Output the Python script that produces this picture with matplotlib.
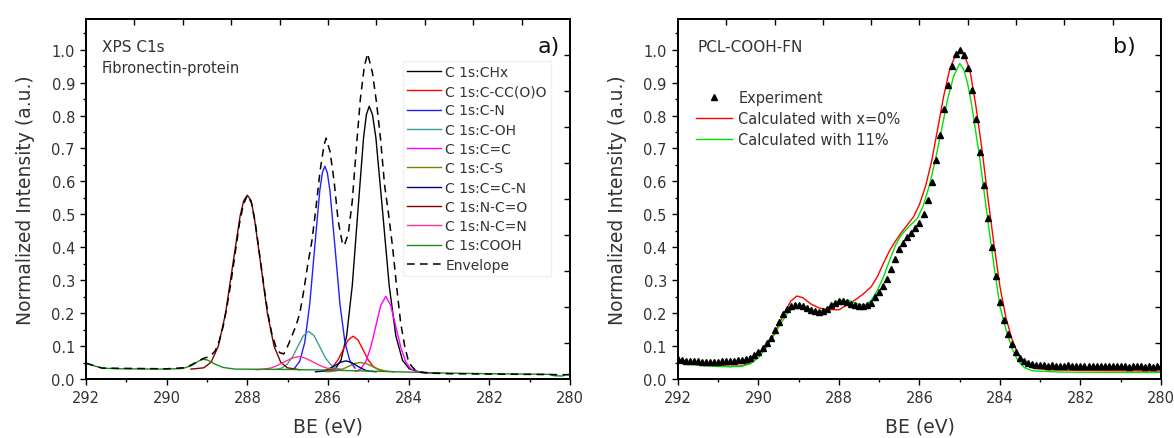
import numpy as np
import matplotlib
matplotlib.use('Agg')
import matplotlib.pyplot as plt

plt.rcParams['font.family'] = ['DejaVu Sans']

# ---- panel a) : XPS C1s fit components (BE in eV, normalized intensity) ----
chx_be = [286.1, 285.82, 285.68, 285.54, 285.40, 285.26, 285.12, 285.05, 284.98, 284.90, 284.815, 284.65, 284.485, 284.32, 284.155, 283.99, 283.7, 283.3]
chx_y = [0.024, 0.031, 0.057, 0.131, 0.284, 0.511, 0.733, 0.803, 0.828, 0.803, 0.733, 0.511, 0.284, 0.131, 0.057, 0.031, 0.020, 0.018]

ccoo_be = [286.13, 286.005, 285.88, 285.755, 285.63, 285.505, 285.38, 285.255, 285.13, 285.005, 284.88, 284.755, 284.63]
ccoo_y = [0.025, 0.029, 0.038, 0.058, 0.088, 0.118, 0.130, 0.118, 0.088, 0.058, 0.038, 0.029, 0.025]

cn_be = [286.83, 286.705, 286.58, 286.455, 286.33, 286.205, 286.14, 286.08, 286.02, 285.955, 285.83, 285.705, 285.58, 285.455, 285.33]
cn_y = [0.033, 0.053, 0.110, 0.227, 0.402, 0.573, 0.627, 0.646, 0.627, 0.573, 0.402, 0.227, 0.110, 0.053, 0.033]

coh_be = [287.29, 287.155, 287.02, 286.885, 286.75, 286.615, 286.48, 286.345, 286.21, 286.075, 285.94, 285.805, 285.67]
coh_y = [0.029, 0.033, 0.044, 0.066, 0.099, 0.131, 0.145, 0.131, 0.099, 0.066, 0.044, 0.033, 0.029]

cc_be = [285.32, 285.195, 285.07, 284.945, 284.82, 284.695, 284.57, 284.445, 284.32, 284.195, 284.07, 283.945, 283.82, 283.5]
cc_y = [0.023, 0.030, 0.051, 0.095, 0.159, 0.223, 0.251, 0.223, 0.159, 0.095, 0.051, 0.030, 0.023, 0.017]

cs_be = [286.04, 285.9, 285.76, 285.62, 285.48, 285.34, 285.2, 285.06, 284.92, 284.78, 284.64, 284.5, 284.36]
cs_y = [0.022, 0.023, 0.026, 0.031, 0.039, 0.047, 0.050, 0.047, 0.039, 0.031, 0.026, 0.023, 0.022]

ccn_be = [286.31, 286.185, 286.06, 285.935, 285.81, 285.685, 285.56, 285.435, 285.31, 285.185, 285.06, 284.935, 284.81]
ccn_y = [0.022, 0.023, 0.026, 0.033, 0.042, 0.051, 0.055, 0.051, 0.042, 0.033, 0.026, 0.023, 0.022]

nco_be = [289.4, 289.08, 288.9, 288.72, 288.54, 288.36, 288.18, 288.09, 288.0, 287.91, 287.835, 287.67, 287.505, 287.34, 287.175, 287.01, 286.7]
nco_y = [0.030, 0.034, 0.051, 0.100, 0.200, 0.349, 0.496, 0.542, 0.558, 0.542, 0.496, 0.349, 0.200, 0.100, 0.051, 0.034, 0.028]

ncn_be = [287.78, 287.605, 287.43, 287.255, 287.08, 286.905, 286.73, 286.555, 286.38, 286.205, 286.03, 285.855, 285.68]
ncn_y = [0.028, 0.030, 0.033, 0.041, 0.052, 0.063, 0.068, 0.063, 0.052, 0.041, 0.033, 0.030, 0.028]

cooh_be = [292.0, 291.8, 291.6, 291.2, 290.0, 289.6, 289.4, 289.3, 289.2, 289.1, 289.0, 288.9, 288.8, 288.6, 288.3,
           287.0, 286.0, 285.0, 284.0, 283.0, 282.0, 281.0, 280.5, 280.4, 280.2, 280.1, 280.0]
cooh_y = [0.048, 0.040, 0.033, 0.031, 0.030, 0.032, 0.040, 0.047, 0.055, 0.060, 0.058, 0.052, 0.045, 0.035, 0.030,
          0.029, 0.027, 0.024, 0.021, 0.018, 0.016, 0.015, 0.014, 0.010, 0.009, 0.013, 0.014]

env_be = [292.0, 291.6, 290.0, 289.6, 289.4, 289.2, 289.1, 289.0, 288.9, 288.8, 288.7, 288.6, 288.5, 288.4, 288.3,
          288.2, 288.1, 288.0, 287.9, 287.8, 287.7, 287.6, 287.5, 287.4, 287.3, 287.2, 287.1, 287.0, 286.9, 286.8,
          286.7, 286.6, 286.5, 286.4, 286.3, 286.2, 286.1, 286.05, 285.95, 285.85, 285.75, 285.65, 285.6, 285.5,
          285.4, 285.3, 285.2, 285.1, 285.02, 284.9, 284.8, 284.7, 284.6, 284.5, 284.4, 284.3, 284.2, 284.1, 284.0,
          283.9, 283.8, 283.5, 283.0, 282.0, 281.0, 280.0]
env_y = [0.048, 0.033, 0.031, 0.034, 0.042, 0.056, 0.062, 0.066, 0.072, 0.085, 0.115, 0.160, 0.225, 0.300, 0.385,
         0.470, 0.530, 0.558, 0.535, 0.470, 0.380, 0.290, 0.205, 0.140, 0.100, 0.080, 0.076, 0.100, 0.130, 0.160,
         0.200, 0.270, 0.350, 0.420, 0.520, 0.630, 0.710, 0.731, 0.690, 0.600, 0.480, 0.415, 0.405, 0.440,
         0.540, 0.700, 0.850, 0.950, 0.988, 0.930, 0.840, 0.730, 0.590, 0.500, 0.400, 0.280, 0.170, 0.100, 0.050,
         0.035, 0.022, 0.018, 0.016, 0.015, 0.014, 0.013]

comp_labels = ['C 1s:CHx', 'C 1s:C-CC(O)O', 'C 1s:C-N', 'C 1s:C-OH', 'C 1s:C=C', 'C 1s:C-S',
               'C 1s:C=C-N', 'C 1s:N-C=O', 'C 1s:N-C=N', 'C 1s:COOH']
comp_colors = ['black', '#ff0000', '#2020ff', '#3a9e9e', '#ff00ff', '#808000',
               '#000080', '#800000', '#ff3399', '#1a8a1a']

# ---- panel b) : PCL-COOH-FN ----
exp_be = np.linspace(292.0, 280.0, 121)
exp_y = [0.062, 0.058, 0.056, 0.055, 0.054, 0.054, 0.053, 0.053, 0.052, 0.053,
         0.053, 0.054, 0.054, 0.055, 0.056, 0.057, 0.058, 0.060, 0.065, 0.072,
         0.082, 0.094, 0.108, 0.125, 0.148, 0.172, 0.196, 0.213, 0.222, 0.226,
         0.226, 0.222, 0.216, 0.210, 0.206, 0.204, 0.206, 0.214, 0.224, 0.231,
         0.236, 0.238, 0.235, 0.229, 0.224, 0.222, 0.222, 0.224, 0.232, 0.248,
         0.265, 0.283, 0.303, 0.334, 0.364, 0.394, 0.414, 0.430, 0.444, 0.458,
         0.475, 0.500, 0.542, 0.598, 0.665, 0.740, 0.820, 0.892, 0.950, 0.988,
         1.000, 0.985, 0.945, 0.878, 0.790, 0.690, 0.590, 0.490, 0.400, 0.312,
         0.235, 0.178, 0.138, 0.106, 0.082, 0.064, 0.054, 0.048, 0.045, 0.043,
         0.042, 0.041, 0.040, 0.041, 0.040, 0.039, 0.040, 0.041, 0.039, 0.040,
         0.039, 0.040, 0.039, 0.038, 0.039, 0.040, 0.039, 0.038, 0.039, 0.038,
         0.039, 0.038, 0.037, 0.038, 0.039, 0.038, 0.037, 0.038, 0.037, 0.038, 0.038]

x0_be = [292.0, 291.8, 291.5, 291.0, 290.7, 290.4, 290.2, 290.0, 289.8, 289.6, 289.4, 289.2, 289.05, 288.9, 288.7,
         288.5, 288.3, 288.0, 287.8, 287.6, 287.4, 287.2, 287.05, 286.9, 286.75, 286.6, 286.45, 286.3, 286.15, 286.0,
         285.85, 285.7, 285.55, 285.4, 285.25, 285.1, 285.0, 284.9, 284.75, 284.6, 284.45, 284.3, 284.15, 284.0,
         283.85, 283.7, 283.55, 283.4, 283.2, 282.8, 282.0, 281.0, 280.0]
x0_y = [0.058, 0.052, 0.047, 0.042, 0.038, 0.040, 0.050, 0.075, 0.100, 0.140, 0.190, 0.236, 0.252, 0.247, 0.228,
        0.216, 0.211, 0.210, 0.225, 0.240, 0.258, 0.280, 0.310, 0.350, 0.388, 0.418, 0.445, 0.468, 0.492, 0.530,
        0.585, 0.660, 0.758, 0.858, 0.940, 0.985, 0.995, 0.987, 0.940, 0.830, 0.700, 0.550, 0.410, 0.280,
        0.185, 0.120, 0.075, 0.048, 0.034, 0.028, 0.026, 0.025, 0.024]

x11_be = [292.0, 291.8, 291.5, 291.0, 290.7, 290.4, 290.2, 290.0, 289.85, 289.65, 289.45, 289.25, 289.05, 288.85,
          288.65, 288.5, 288.3, 288.05, 287.9, 287.7, 287.5, 287.35, 287.2, 287.05, 286.9, 286.75, 286.6, 286.45,
          286.3, 286.2, 286.05, 285.9, 285.75, 285.6, 285.45, 285.3, 285.15, 285.0, 284.9, 284.8, 284.7, 284.5,
          284.3, 284.15, 284.0, 283.85, 283.7, 283.55, 283.4, 283.2, 282.5, 281.0, 280.0]
x11_y = [0.054, 0.047, 0.042, 0.038, 0.037, 0.039, 0.046, 0.065, 0.088, 0.125, 0.168, 0.205, 0.220, 0.216,
         0.206, 0.205, 0.214, 0.234, 0.240, 0.236, 0.226, 0.224, 0.238, 0.268, 0.308, 0.358, 0.405, 0.438,
         0.458, 0.470, 0.488, 0.528, 0.590, 0.668, 0.758, 0.850, 0.920, 0.958, 0.940, 0.895, 0.830, 0.668,
         0.480, 0.345, 0.220, 0.150, 0.092, 0.055, 0.035, 0.025, 0.021, 0.020, 0.020]

YTOP = 1.093
txt_col = '#333333'


def style_axes(ax):
    # top/right ticks point inwards, 10 equal steps (like the Origin frame)
    top = ax.twiny()
    top.set_xlim(0, 1)
    top.set_xticks(np.arange(0.1, 0.95, 0.1))
    top.tick_params(axis='x', direction='in', length=4, width=1, labeltop=False)
    right = ax.twinx()
    right.set_ylim(0, 1)
    right.set_yticks(np.arange(0.1, 0.95, 0.1))
    right.tick_params(axis='y', direction='in', length=4, width=1, labelright=False)
    for a in (top, right):
        for s in a.spines.values():
            s.set_linewidth(1.1)

    ax.set_xlim(292, 280)
    ax.set_ylim(0, YTOP)
    ax.set_xticks(np.arange(292, 279, -2))
    ax.set_xticks(np.arange(291, 280, -2), minor=True)
    ax.set_yticks(np.arange(0, 1.01, 0.1))
    ax.set_yticks(np.arange(0.05, 1.06, 0.1), minor=True)
    ax.set_yticklabels(['%.1f' % v for v in np.arange(0, 1.01, 0.1)])
    ax.tick_params(which='major', direction='out', length=4.5, width=1,
                   labelsize=10.5, labelcolor=txt_col)
    ax.tick_params(which='minor', direction='out', length=2.5, width=1)
    for s in ax.spines.values():
        s.set_linewidth(1.1)
    ax.set_xlabel('BE (eV)', fontsize=13.5, color=txt_col, labelpad=8)
    ax.set_ylabel('Normalized Intensity (a.u.)', fontsize=13.5, color=txt_col, labelpad=12)


fig = plt.figure(figsize=(11.74, 4.39), dpi=100)
ax1 = fig.add_axes([0.0733, 0.1344, 0.4123, 0.820])
ax2 = fig.add_axes([0.5775, 0.1344, 0.4114, 0.820])

# a)
comp_be = [chx_be, ccoo_be, cn_be, coh_be, cc_be, cs_be, ccn_be, nco_be, ncn_be, cooh_be]
comp_y = [chx_y, ccoo_y, cn_y, coh_y, cc_y, cs_y, ccn_y, nco_y, ncn_y, cooh_y]
for xb, yv, lab, col in zip(comp_be, comp_y, comp_labels, comp_colors):
    ax1.plot(xb, yv, color=col, lw=1.0, label=lab)
ax1.plot(env_be, env_y, color='black', lw=1.1, ls=(0, (5, 3.5)), label='Envelope')
style_axes(ax1)
ax1.text(0.033, 0.925, 'XPS C1s', transform=ax1.transAxes, fontsize=11, color=txt_col, va='center')
ax1.text(0.033, 0.866, 'Fibronectin-protein', transform=ax1.transAxes, fontsize=10.5, color=txt_col, va='center')
ax1.text(0.955, 0.925, 'a)', transform=ax1.transAxes, fontsize=16, color='#111111', va='center', ha='center')
leg1 = ax1.legend(loc='upper left', bbox_to_anchor=(0.655, 0.884), borderaxespad=0, fontsize=10,
                  frameon=True, fancybox=False, edgecolor='#eeeeee', handlelength=2.4,
                  handletextpad=0.35, labelspacing=0.38, borderpad=0.3)
for t in leg1.get_texts():
    t.set_color(txt_col)

# b)
ax2.plot(x0_be, x0_y, color='#ff0000', lw=1.0, label='Calculated with x=0%', zorder=2)
ax2.plot(x11_be, x11_y, color='#00e000', lw=1.0, label='Calculated with 11%', zorder=3)
ax2.plot(exp_be, exp_y, ls='none', marker='^', color='black', ms=4.3, label='Experiment', zorder=4)
style_axes(ax2)
ax2.text(0.04, 0.925, 'PCL-COOH-FN', transform=ax2.transAxes, fontsize=11, color=txt_col, va='center')
ax2.text(0.925, 0.925, 'b)', transform=ax2.transAxes, fontsize=16, color='#111111', va='center', ha='center')
h, l = ax2.get_legend_handles_labels()
order = [2, 0, 1]
leg2 = ax2.legend([h[i] for i in order], [l[i] for i in order], loc='upper left',
                  bbox_to_anchor=(0.037, 0.802), borderaxespad=0, borderpad=0, frameon=False,
                  fontsize=10.5, handlelength=2.5, handletextpad=0.4, labelspacing=0.4, numpoints=1)
for t in leg2.get_texts():
    t.set_color(txt_col)

fig.savefig('out.png', dpi=100)
